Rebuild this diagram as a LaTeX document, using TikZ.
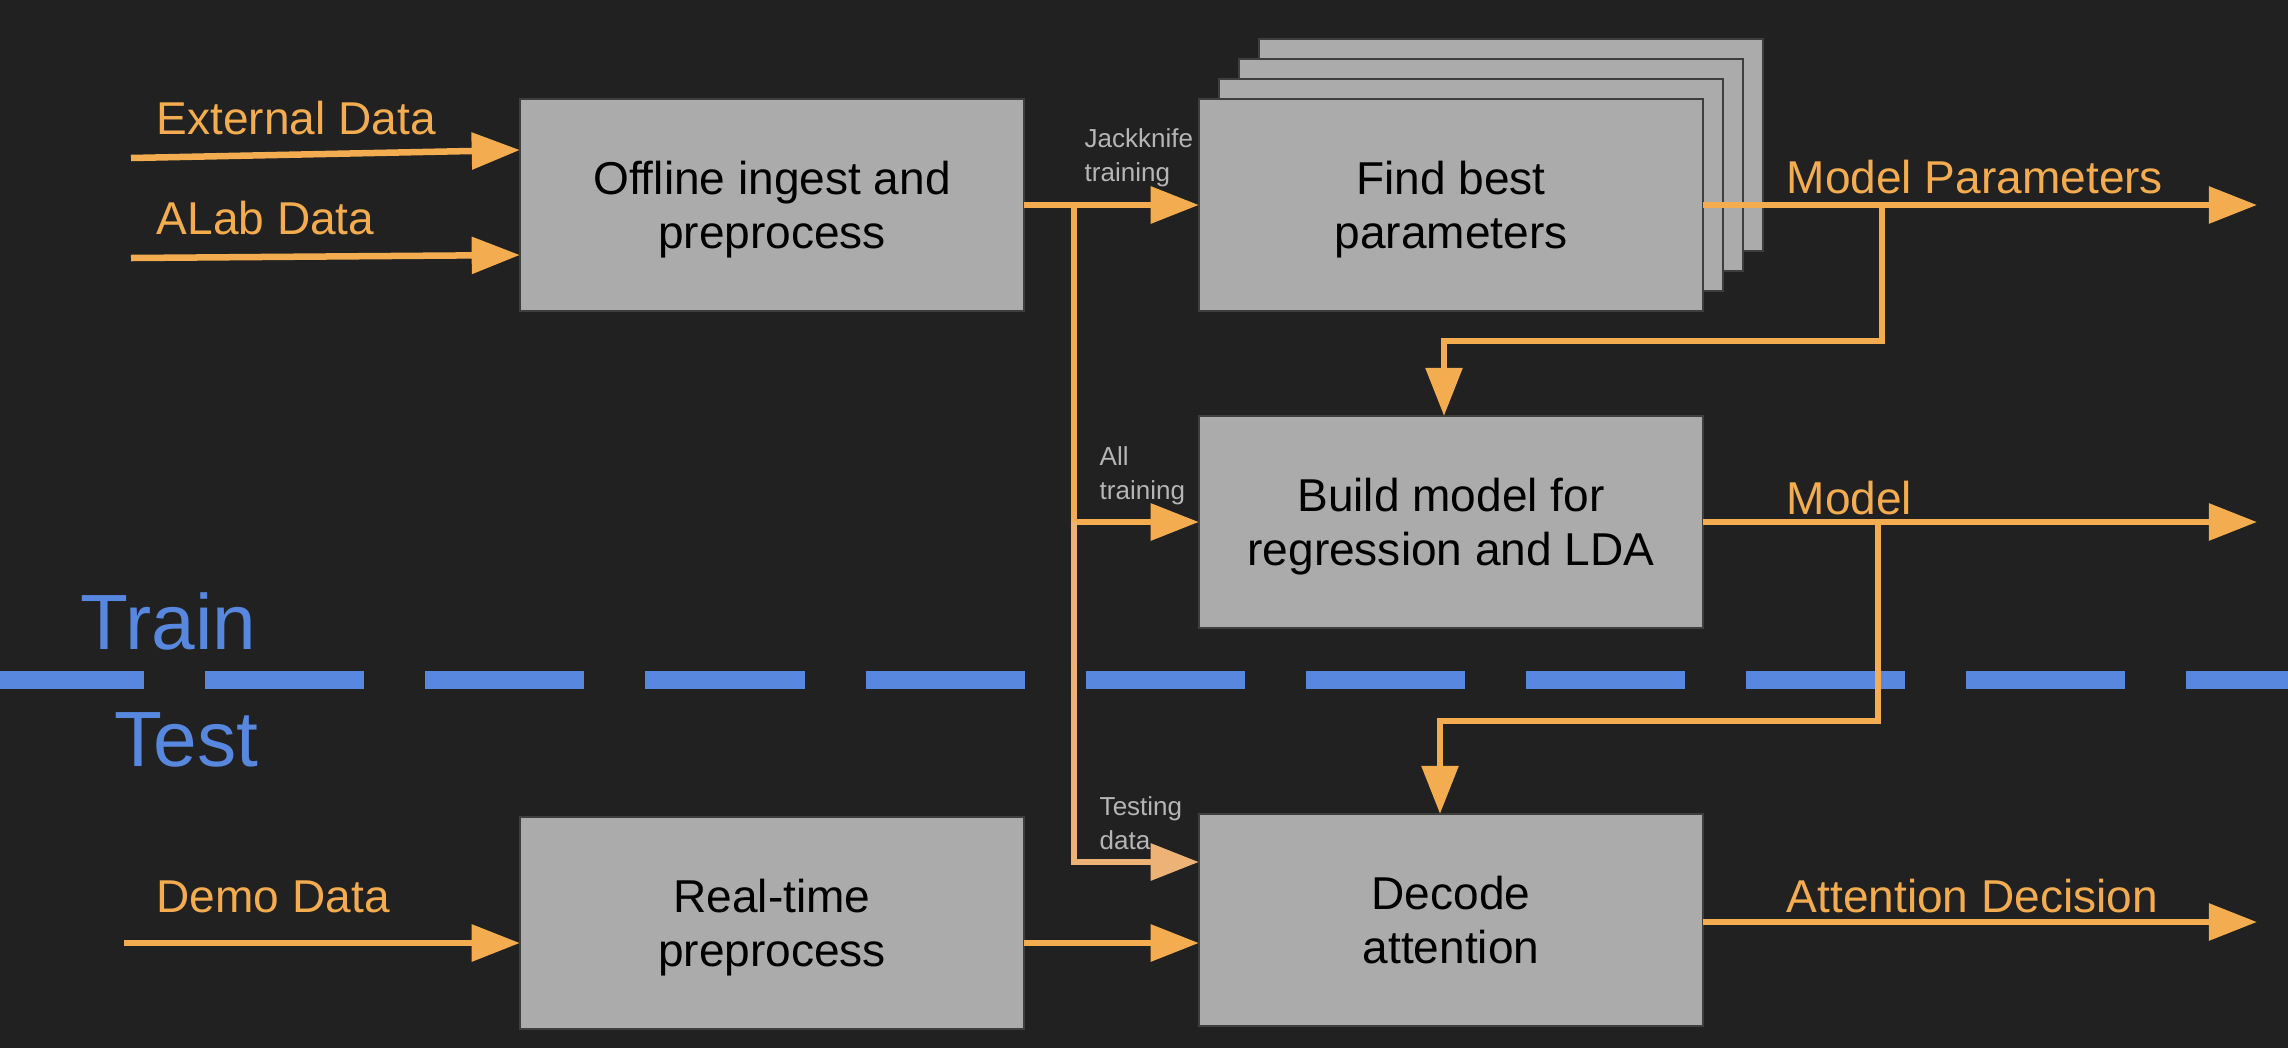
\documentclass[tikz,border=0pt]{standalone}
\usepackage{fontspec}
\setmainfont{Liberation Sans}
\usetikzlibrary{arrows.meta,calc}
\definecolor{bg}{HTML}{212121}
\definecolor{boxfill}{HTML}{ABABAB}
\definecolor{boxline}{HTML}{3E3E3E}
\definecolor{orng}{HTML}{F3AC50}
\definecolor{lorng}{HTML}{EDB276}
\definecolor{blu}{HTML}{5787DE}
\definecolor{smallgray}{HTML}{B5B5B5}
\tikzset{
  box/.style={draw=boxline, line width=0.6pt, fill=boxfill, minimum width=5.04cm, minimum height=2.12cm,
    inner sep=0pt, outer sep=0pt, align=center, text depth=0pt, font=\fontsize{13.1}{15.4}\selectfont, text=black},
  wire/.style={draw=orng, line width=1.85pt},
  flow/.style={wire, -{Triangle[length=13.7pt,width=10.2pt]}},
  flowlight/.style={draw=lorng, line width=1.85pt, -{Triangle[length=13.7pt,width=10.2pt]}},
  lab/.style={text=orng, font=\fontsize{13.1}{15.4}\selectfont, inner sep=0pt, anchor=base west},
  small/.style={text=smallgray, font=\fontsize{7.4}{9.7}\selectfont, inner sep=0pt, anchor=west, align=left},
  split/.style={text=blu, font=\fontsize{22.3}{26}\selectfont, inner sep=0pt, anchor=base west}
}
\begin{document}
\begin{tikzpicture}[x=0.01cm,y=-0.01cm]
\fill[bg] (0,0) rectangle (2288,1048);
\useasboundingbox (0,0) rectangle (2288,1048);

% train/test divider
\coordinate (dl) at (0,680);
\coordinate (dr) at (2288,680);
\draw[blu, line width=5.1pt, dash pattern=on 45.24pt off 17.36pt, dash phase=4.27pt] (dl) -- (dr);
\node[split] (train) at (80,649) {Train};
\node[split] (test) at (114,766) {Test};

% boxes
\node[box] (off) at (772,205) {Offline ingest and\\preprocess};
\node[box] (s3) at (1511,145) {};
\node[box] (s2) at (1491,165) {};
\node[box] (s1) at (1471,185) {};
\node[box] (find) at (1451,205) {Find best\\parameters};
\node[box] (build) at (1451,522) {Build model for\\regression and LDA};
\node[box] (dec) at (1451,920) {Decode\\attention};
\node[box] (rt) at (772,923) {Real-time\\preprocess};

% inputs
\coordinate (extS) at (131,158);
\coordinate (alabS) at (131,258);
\coordinate (demoS) at (124,943);
\draw[flow] (extS) -- ($(off.west)+(0,-55)$);
\draw[flow] (alabS) -- ($(off.west)+(0,50)$);
\draw[flow] (demoS) -- ($(rt.west)+(0,20)$);
\node[lab] (extL) at (156,134) {External Data};
\node[lab] (alabL) at (156,234) {ALab Data};
\node[lab] (demoL) at (156,912) {Demo Data};

% offline to models
\draw[flow] (off.east) -- (find.west);
\coordinate (br) at (1074,205);
\coordinate (at) at (br |- build.west);
\draw[wire] (br) -- (at);
\draw[flow] (at) -- (build.west);
\draw[flowlight] (at) |- ($(dec.west)+(0,-58)$);
\draw[flow] ($(rt.east)+(0,20)$) -- ($(dec.west)+(0,23)$);

\node[small] (jk) at (1084,158) {Jackknife\\training};
\node[small] (allt) at (1099,476) {All\\training};
\node[small] (testd) at (1099,823) {Testing\\data};

% outputs
\coordinate (o1) at (2257,205);
\coordinate (o2) at (2257,522);
\coordinate (o3) at (2257,922);
\draw[flow] (find.east) -- (o1);
\draw[flow] (build.east) -- (o2);
\draw[flow] ($(dec.east)+(0,2)$) -- (o3);
\node[lab] (mpL) at (1786,193) {Model Parameters};
\node[lab] (mL) at (1786,514) {Model};
\node[lab] (adL) at (1786,912) {Attention Decision};

% feedback branches
\coordinate (mpB) at (1882,205);
\coordinate (mpK) at (1444,341);
\draw[flow] (mpB) |- (mpK) -- (mpK |- build.north);
\coordinate (mB) at (1878,522);
\coordinate (mK) at (1440,721);
\draw[flow] (mB) |- (mK) -- (mK |- dec.north);
\end{tikzpicture}
\end{document}
